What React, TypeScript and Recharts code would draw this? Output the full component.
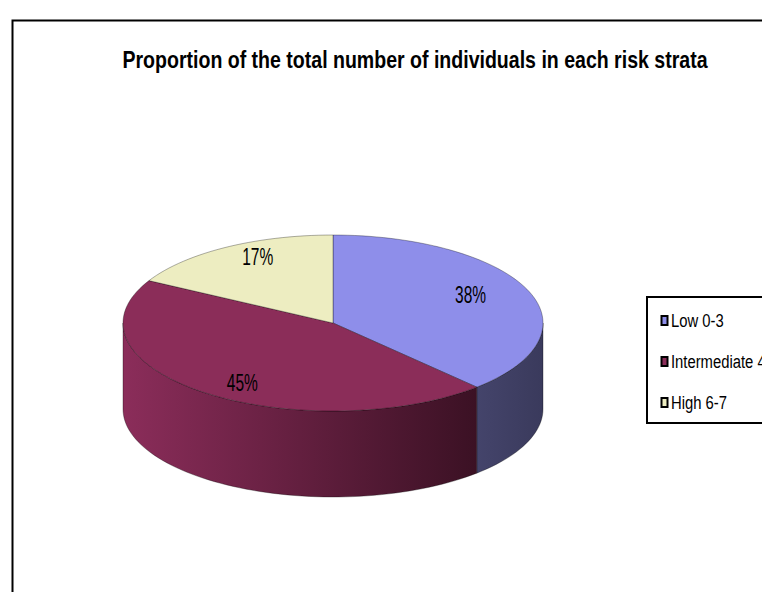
import React from 'react';
import { PieChart, Pie, Cell, Customized } from 'recharts';

// risk strata shares (%)
const strata = ['Low 0-3', 'Intermediate 4', 'High 6-7'];
const shares = [38, 45, 17];
const topColors = ['#8e8eea', '#8b2d59', '#ededc1'];
const sideFrom = ['#44446b', '#8b2d5a', '#c8c89a'];
const sideTo = ['#3a3a5c', '#3b1124', '#9c9c70'];

const data = strata.map((name, i) => ({ name, value: shares[i] }));

const TILT = 88 / 210;
const DEPTH = 86;
const FONT = "'Liberation Sans', Arial, sans-serif";

const pt = (cx: number, cy: number, r: number, deg: number, dy = 0) => {
  const a = (deg * Math.PI) / 180;
  return [cx + r * Math.cos(a), cy - r * TILT * Math.sin(a) + dy];
};

const arcPts = (cx: number, cy: number, r: number, a: number, b: number, dy = 0) => {
  const n = Math.max(8, Math.ceil(Math.abs(b - a) / 2));
  const out: number[][] = [];
  for (let i = 0; i <= n; i++) out.push(pt(cx, cy, r, a + ((b - a) * i) / n, dy));
  return out;
};

const toPath = (p: number[][]) => p.map((q, i) => `${i ? 'L' : 'M'}${q[0].toFixed(2)},${q[1].toFixed(2)}`).join(' ');

const Slice3D = (props: any) => {
  const { cx, cy, outerRadius, startAngle, endAngle, index } = props;
  const lo = Math.min(startAngle, endAngle);
  const hi = Math.max(startAngle, endAngle);
  const sides: string[] = [];
  // front half of the disc
  [[-180, 0], [180, 360], [-540, -360]].forEach(([f0, f1]) => {
    const a = Math.max(lo, f0);
    const b = Math.min(hi, f1);
    if (b > a) {
      const top = arcPts(cx, cy, outerRadius, a, b);
      const bottom = arcPts(cx, cy, outerRadius, b, a, DEPTH);
      sides.push(toPath([...top, ...bottom]) + ' Z');
    }
  });
  const topFace = 'M' + cx + ',' + cy + ' ' + toPath(arcPts(cx, cy, outerRadius, startAngle, endAngle)).replace(/^M/, 'L') + ' Z';
  const gid = `side-grad-${index}`;
  return (
    <g>
      <defs>
        <linearGradient id={gid} x1="0" y1="0" x2="1" y2="0">
          <stop offset="0%" stopColor={sideFrom[index]} />
          <stop offset="100%" stopColor={sideTo[index]} />
        </linearGradient>
      </defs>
      {sides.map((d, i) => (
        <path key={i} d={d} fill={`url(#${gid})`} stroke="rgba(0,0,0,0.45)" strokeWidth={0.7} />
      ))}
      <path d={topFace} fill={topColors[index]} stroke="rgba(0,0,0,0.45)" strokeWidth={0.7} />
    </g>
  );
};

const renderLabel = (props: any) => {
  const { cx, cy, midAngle, percent } = props;
  const a = (midAngle * Math.PI) / 180;
  const x = cx + 148 * Math.cos(a);
  const y = cy - 76 * Math.sin(a) - 1;
  return (
    <text
      x={x}
      y={y}
      textAnchor="middle"
      dominantBaseline="central"
      fontFamily={FONT}
      fontSize={24}
      textLength={31}
      lengthAdjust="spacingAndGlyphs"
      fill="#000"
    >
      {`${Math.round(percent * 100)}%`}
    </text>
  );
};

const Frame = () => (
  <g>
    <path d="M12.5,1000 V20.5 H1000" fill="none" stroke="#000" strokeWidth={2} />
    <text
      transform="translate(415, 60) scale(0.85, 1)"
      textAnchor="middle"
      dominantBaseline="central"
      fontFamily={FONT}
      fontWeight="bold"
      fontSize={23}
      fill="#000"
    >
      Proportion of the total number of individuals in each risk strata
    </text>
  </g>
);

// legend box on the right, its right side runs off the picture
const LegendBox = () => (
  <g>
    <rect x={647} y={297} width={300} height={126} fill="#fff" />
    <path d="M1000,297 H647 V423 H1000" fill="none" stroke="#000" strokeWidth={2} />
    {strata.map((s, i) => {
      const y = 321 + i * 41;
      return (
        <g key={s}>
          <rect x={661.5} y={y - 5} width={6} height={9} fill={topColors[i]} stroke="#000" strokeWidth={2} />
          <text
            transform={`translate(671, ${y}) scale(0.78, 1)`}
            dominantBaseline="central"
            fontFamily={FONT}
            fontSize={19}
            fill="#000"
          >
            {s}
          </text>
        </g>
      );
    })}
  </g>
);

export default function App() {
  return (
    <div style={{ margin: -8, width: 770, height: 600, overflow: 'hidden', background: '#fff' }}>
      <PieChart width={770} height={600}>
        <Customized component={Frame} />
        <Pie
          data={data}
          dataKey="value"
          nameKey="name"
          cx={328}
          cy={318}
          outerRadius={210}
          startAngle={90}
          endAngle={-270}
          shape={Slice3D}
          label={renderLabel}
          labelLine={false}
          isAnimationActive={false}
        >
          {data.map((d, i) => (
            <Cell key={d.name} fill={topColors[i]} />
          ))}
        </Pie>
        <Customized component={LegendBox} />
      </PieChart>
    </div>
  );
}
